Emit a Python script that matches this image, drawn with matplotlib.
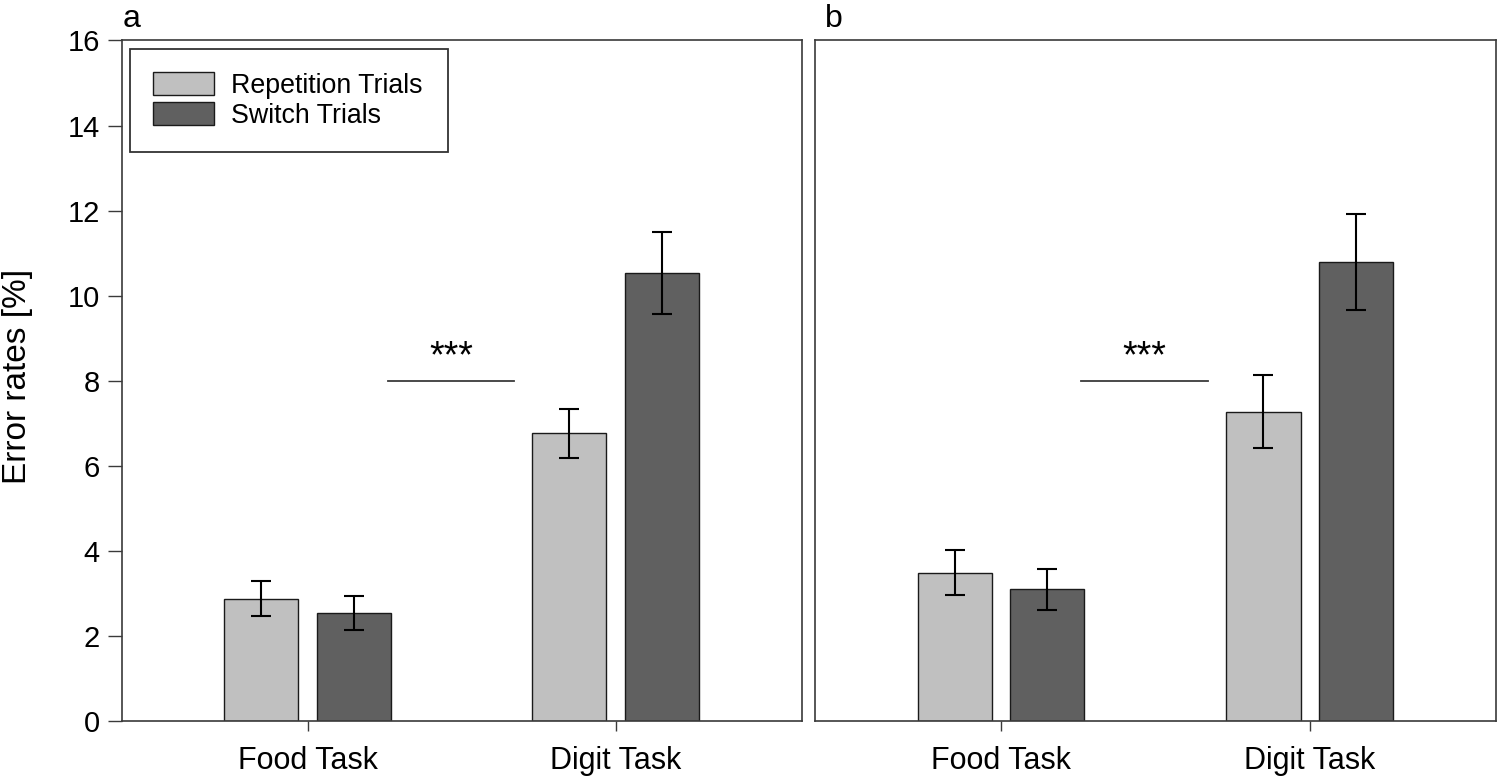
import matplotlib.pyplot as plt
import numpy as np

plt.rcParams['font.family'] = ['Liberation Sans', 'DejaVu Sans']

tasks = ['Food Task', 'Digit Task']
conditions = ['Repetition Trials', 'Switch Trials']
bar_colors = ['#c0c0c0', '#606060']

# panel a
a_means = [[2.87, 6.76], [2.55, 10.54]]
a_errs = [[0.41, 0.57], [0.40, 0.96]]
# panel b
b_means = [[3.49, 7.27], [3.10, 10.79]]
b_errs = [[0.53, 0.86], [0.48, 1.13]]

sig_x = [0.26, 0.67]
sig_y = 8.0
sig_text = '***'

LINE = '#3a3a3a'


def draw_panel(ax, means, errs, letter, show_y=True):
    x = np.arange(len(tasks))
    width = 0.24
    offsets = [-0.15, 0.15]
    for i, cond in enumerate(conditions):
        ax.bar(x + offsets[i], means[i], width, color=bar_colors[i],
               edgecolor='#1a1a1a', linewidth=1.0, label=cond, zorder=2)
        ax.errorbar(x + offsets[i], means[i], yerr=errs[i], fmt='none',
                    ecolor='black', elinewidth=1.5, capsize=7.5,
                    capthick=1.5, zorder=3)

    # significance marker between tasks
    ax.plot(sig_x, [sig_y, sig_y], color=LINE, linewidth=1.3)
    ax.text(np.mean(sig_x), sig_y + 0.55, sig_text, ha='center', va='center',
            fontsize=27)

    ax.set_xlim(-0.602, 1.603)
    ax.set_ylim(0, 16)
    ax.set_xticks(x)
    ax.set_xticklabels(tasks, fontsize=22)
    ax.set_yticks(range(0, 17, 2))
    ax.tick_params(axis='x', direction='out', length=7, width=1.0,
                   color=LINE, pad=11)
    if show_y:
        ax.tick_params(axis='y', direction='out', length=10, width=1.0,
                       color=LINE, pad=6, labelsize=21)
    else:
        ax.tick_params(axis='y', length=0, labelleft=False)
    for sp in ax.spines.values():
        sp.set_color(LINE)
        sp.set_linewidth(1.2)
    ax.text(0.0005 if show_y else 0.014, 1.01, letter, transform=ax.transAxes,
            fontsize=23, ha='left', va='bottom')


fig = plt.figure(figsize=(14.99, 7.78), dpi=100)
ax_a = fig.add_axes([0.0814, 0.0733, 0.4533, 0.8747])
ax_b = fig.add_axes([0.5437, 0.0733, 0.4543, 0.8747])

draw_panel(ax_a, a_means, a_errs, 'a', show_y=True)
draw_panel(ax_b, b_means, b_errs, 'b', show_y=False)

ax_a.set_ylabel('Error rates [%]', fontsize=24)
ax_a.yaxis.set_label_coords(-0.131, 0.507)

leg = ax_a.legend(loc='upper left', bbox_to_anchor=(0.0118, 0.8875, 0.468, 0.1),
                  mode='expand', fontsize=19.3, frameon=True, fancybox=False,
                  handlelength=2.3, handleheight=0.95, handletextpad=0.6,
                  labelspacing=0.14, borderpad=0.85, borderaxespad=0)
leg.get_frame().set_edgecolor('black')
leg.get_frame().set_linewidth(1.3)
for h in leg.legend_handles:
    h.set_edgecolor('#1a1a1a')

fig.savefig('out.png', dpi=100)
